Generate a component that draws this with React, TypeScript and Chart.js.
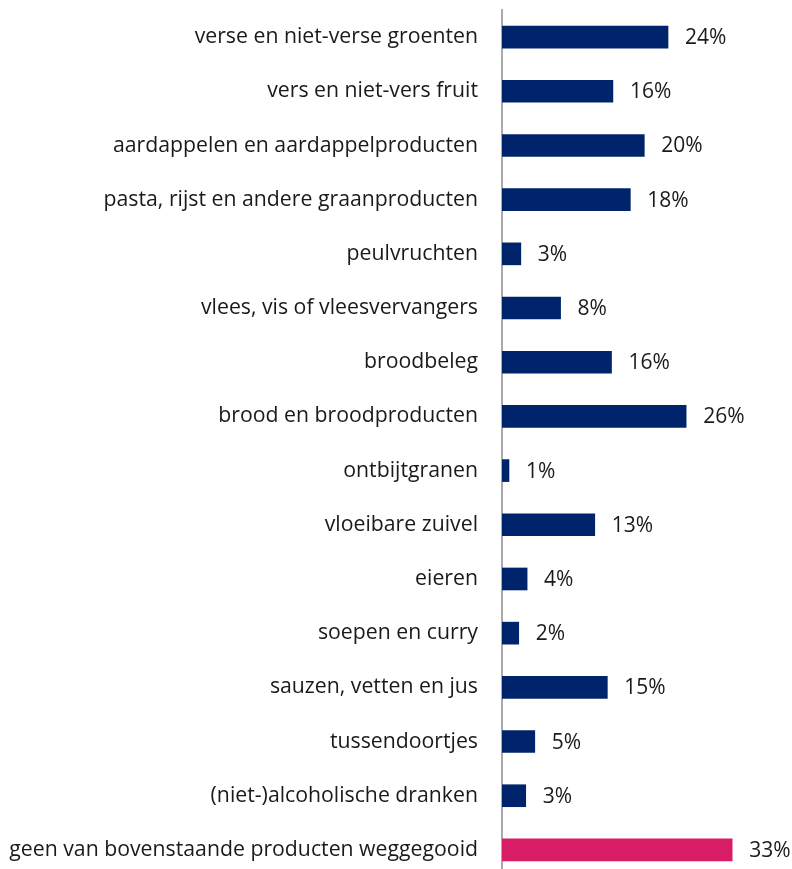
import React, { useEffect, useRef } from "react";
import { Chart, registerables } from "chart.js";

Chart.register(...registerables);

const categories: string[] = [
  "verse en niet-verse groenten",
  "vers en niet-vers fruit",
  "aardappelen en aardappelproducten",
  "pasta, rijst en andere graanproducten",
  "peulvruchten",
  "vlees, vis of vleesvervangers",
  "broodbeleg",
  "brood en broodproducten",
  "ontbijtgranen",
  "vloeibare zuivel",
  "eieren",
  "soepen en curry",
  "sauzen, vetten en jus",
  "tussendoortjes",
  "(niet-)alcoholische dranken",
  "geen van bovenstaande producten weggegooid",
];

const values: number[] = [23.8, 15.9, 20.4, 18.4, 2.7, 8.4, 15.7, 26.4, 1.0, 13.3, 3.6, 2.4, 15.1, 4.7, 3.4, 33.0];

const valueLabels: string[] = [
  "24%", "16%", "20%", "18%", "3%", "8%", "16%", "26%", "1%", "13%", "4%", "2%", "15%", "5%", "3%", "33%",
];

const NAVY = "#00246b";
const PINK = "#d81c66";

const FONT = "'Open Sans', 'Noto Sans', sans-serif";

const valueLabelPlugin = {
  id: "valueLabels",
  afterDatasetsDraw(chart: any) {
    const ctx = chart.ctx;
    const meta = chart.getDatasetMeta(0);
    ctx.save();
    ctx.font = `21px ${FONT}`;
    ctx.fillStyle = "#1a1a1a";
    ctx.textAlign = "left";
    ctx.textBaseline = "middle";
    meta.data.forEach((bar: any, i: number) => {
      ctx.fillText(valueLabels[i], bar.x + 17, bar.y + 1);
    });
    ctx.restore();
  },
};

export default function App() {
  const ref = useRef<HTMLCanvasElement | null>(null);
  useEffect(() => {
    if (!ref.current) return;
    const chart = new Chart(ref.current, {
      type: "bar",
      data: {
        labels: categories,
        datasets: [
          {
            data: values,
            backgroundColor: values.map((_, i) => (i === values.length - 1 ? PINK : NAVY)),
            borderWidth: 0,
            barThickness: 22,
          },
        ],
      },
      options: {
        indexAxis: "y",
        responsive: false,
        animation: false,
        layout: { padding: { top: 10, right: 11, bottom: 0, left: 0 } },
        plugins: { legend: { display: false }, tooltip: { enabled: false } },
        scales: {
          x: { display: false, min: 0, max: 40 },
          y: {
            afterFit: (scale: any) => {
              scale.width = 502;
              scale.paddingTop = 0;
              scale.paddingBottom = 0;
            },
            grid: { display: false, drawTicks: false },
            border: { display: true, color: "#ababab", width: 2 },
            ticks: {
              padding: 24,
              color: "#1a1a1a",
              font: { family: FONT, size: 21.25 },
              autoSkip: false,
            },
          },
        },
      },
      plugins: [valueLabelPlugin],
    });
    return () => chart.destroy();
  }, []);
  return (
    <div style={{ position: "absolute", left: 0, top: 0, width: 792, height: 877, background: "#fff" }}>
      <canvas ref={ref} width={792} height={877} style={{ display: "block" }} />
    </div>
  );
}
